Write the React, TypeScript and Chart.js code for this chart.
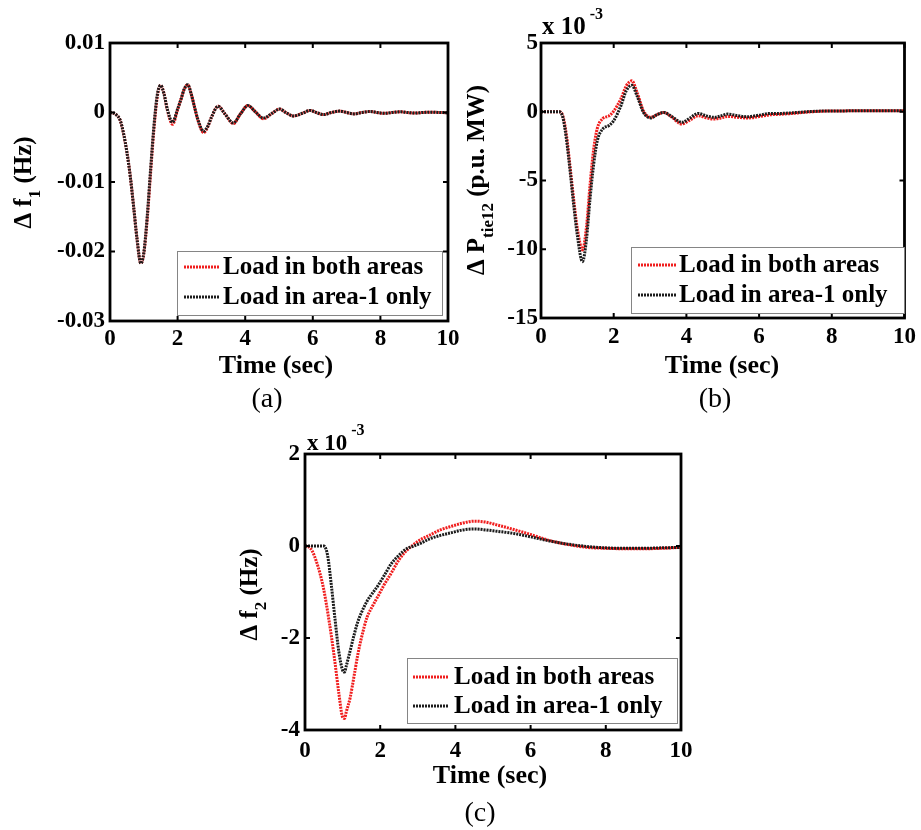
import React, { useEffect, useRef } from 'react';
import { Chart, registerables } from 'chart.js';

Chart.register(...registerables);

const W = 921;
const H = 830;
const FAMILY = '"Liberation Serif", "Times New Roman", Times, serif';
const RED = '#f01e1e';
const BLACK = '#1c1c1c';

const LABEL_BOTH = 'Load in both areas';
const LABEL_AREA1 = 'Load in area-1 only';

// ---------- (a) Δf1 (Hz) ----------
const timeA = [0, 0.1, 0.2, 0.3, 0.4, 0.5, 0.6, 0.7, 0.8, 0.91, 1.0, 1.1, 1.2, 1.3, 1.4, 1.5, 1.6, 1.7, 1.85, 2.0, 2.1, 2.2, 2.3, 2.4, 2.5, 2.6, 2.77, 2.9, 3.0, 3.2, 3.4, 3.65, 3.86, 4.08, 4.3, 4.54, 4.8, 5.02, 5.2, 5.42, 5.7, 5.92, 6.1, 6.32, 6.55, 6.8, 7.0, 7.22, 7.45, 7.7, 7.9, 8.12, 8.35, 8.6, 8.8, 9.02, 9.25, 9.5, 9.75, 10];
const freq1Area1 = [0, -0.0001, -0.0004, -0.0011, -0.003, -0.0057, -0.0092, -0.0136, -0.0182, -0.0217, -0.0202, -0.015, -0.0082, -0.0019, 0.0026, 0.0039, 0.0026, 0.0004, -0.0014, 0.0005, 0.0019, 0.0034, 0.004, 0.0027, 0.0008, -0.001, -0.0027, -0.0019, -0.0007, 0.0009, -0.0002, -0.0015, -0.0002, 0.001, 0.0001, -0.0008, -0.0001, 0.0005, 0, -0.0005, -0.0001, 0.0003, 0, -0.0003, 0, 0.0002, 0, -0.0002, 0, 0.00015, 0, -0.00012, 0, 0.0001, 0, -0.00008, 0, 0.00005, 0, -0.00003];
const freq1Both = [0, -0.0001, -0.0004, -0.0011, -0.003, -0.0057, -0.0092, -0.0136, -0.0182, -0.0217, -0.0203, -0.0154, -0.0088, -0.0024, 0.0023, 0.0039, 0.0027, 0.0003, -0.0017, 0.0004, 0.0019, 0.0034, 0.004, 0.0027, 0.0008, -0.0011, -0.0029, -0.002, -0.0007, 0.0009, -0.0002, -0.0016, -0.0002, 0.001, 0.0001, -0.0009, -0.0001, 0.0005, 0, -0.0005, -0.0001, 0.0003, 0, -0.0003, 0, 0.0002, 0, -0.0002, 0, 0.00015, 0, -0.00012, 0, 0.0001, 0, -0.00008, 0, 0.00005, 0, -0.00003];

// ---------- (b) ΔPtie12 (p.u. MW), x 10^-3 ----------
const timeB = [0, 0.3, 0.5, 0.6, 0.7, 0.8, 0.9, 1.0, 1.14, 1.25, 1.35, 1.45, 1.55, 1.7, 1.87, 2.0, 2.2, 2.35, 2.5, 2.65, 2.82, 3.02, 3.2, 3.38, 3.6, 3.87, 4.1, 4.32, 4.55, 4.77, 4.95, 5.14, 5.4, 5.68, 6.0, 6.31, 6.6, 6.94, 7.3, 7.75, 8.3, 9.0, 9.5, 10];
const tieArea1 = [0, 0, 0, -0.4, -2.0, -4.3, -6.8, -9.0, -10.9, -9.3, -6.3, -3.8, -2.1, -1.25, -1.0, -0.65, 0.45, 1.55, 1.92, 1.1, -0.05, -0.45, -0.2, -0.05, -0.35, -0.77, -0.45, -0.12, -0.3, -0.41, -0.3, -0.17, -0.28, -0.36, -0.25, -0.12, -0.12, -0.07, 0, 0.05, 0.06, 0.08, 0.08, 0.08];
const tieBoth = [0, 0, 0, -0.3, -1.7, -4.0, -6.4, -8.5, -10.05, -8.4, -5.3, -2.7, -1.2, -0.5, -0.3, 0.05, 0.95, 1.9, 2.25, 1.35, 0.05, -0.4, -0.2, -0.05, -0.4, -0.89, -0.6, -0.29, -0.45, -0.53, -0.45, -0.34, -0.4, -0.46, -0.35, -0.22, -0.18, -0.12, -0.03, 0.04, 0.06, 0.08, 0.08, 0.08];

// ---------- (c) Δf2 (Hz), x 10^-3 ----------
const timeC = [0, 0.1, 0.2, 0.3, 0.4, 0.5, 0.6, 0.7, 0.8, 0.9, 1.0, 1.05, 1.1, 1.2, 1.3, 1.4, 1.5, 1.65, 1.8, 1.95, 2.1, 2.3, 2.5, 2.7, 2.9, 3.1, 3.3, 3.6, 3.9, 4.2, 4.5, 4.8, 5.1, 5.5, 6.0, 6.5, 7.0, 7.5, 8.0, 8.5, 9.0, 9.5, 10];
const freq2Both = [0, -0.02, -0.12, -0.33, -0.6, -0.95, -1.42, -1.95, -2.55, -3.2, -3.72, -3.75, -3.6, -3.3, -2.85, -2.38, -2.0, -1.55, -1.3, -1.08, -0.85, -0.58, -0.3, -0.1, 0.04, 0.15, 0.23, 0.35, 0.43, 0.5, 0.54, 0.52, 0.46, 0.37, 0.25, 0.12, 0.03, -0.03, -0.05, -0.06, -0.06, -0.05, -0.03];
const freq2Area1 = [0, 0, 0, 0, 0, 0, -0.2, -0.85, -1.6, -2.3, -2.7, -2.74, -2.6, -2.28, -1.95, -1.66, -1.45, -1.2, -1.02, -0.85, -0.65, -0.38, -0.2, -0.06, 0.0, 0.07, 0.15, 0.23, 0.29, 0.35, 0.37, 0.35, 0.32, 0.28, 0.2, 0.11, 0.04, -0.01, -0.04, -0.05, -0.05, -0.04, -0.03];

// ---------- ticks ----------
const xTicks = [0, 2, 4, 6, 8, 10];
const yTicksA = [-0.03, -0.02, -0.01, 0, 0.01];
const yTicksB = [-15, -10, -5, 0, 5];
const yTicksC = [-4, -2, 0, 2];

type Seg = { text: string; sub?: boolean };

interface PanelSpec {
  area: { l: number; t: number; r: number; b: number };
  yMin: number;
  yMax: number;
  yTicks: number[];
  fmt: (v: number) => string;
  time: number[];
  both: number[];
  area1: number[];
  yTitle: Seg[];
  yTitlePos: [number, number];
  xTitlePos: [number, number];
  caption: string;
  captionPos: [number, number];
  multiplier?: [number, number, number];
  legendBox: [number, number, number, number];
  legendLine: [number, number];
  legendRows: [number, number];
  legendTextX: number;
  xPad: number;
  yPad: number;
}

const fmtDec = (v: number) => {
  const r = Math.round(v * 100) / 100;
  return r === 0 ? '0' : String(r);
};
const fmtInt = (v: number) => {
  const r = Math.round(v);
  return r === 0 ? '0' : String(r);
};

const panels: PanelSpec[] = [
  {
    area: { l: 110, t: 43, r: 448, b: 321 },
    yMin: -0.03, yMax: 0.01, yTicks: yTicksA, fmt: fmtDec,
    time: timeA, both: freq1Both, area1: freq1Area1,
    yTitle: [{ text: 'Δ f' }, { text: '1', sub: true }, { text: ' (Hz)' }],
    yTitlePos: [31, 182.5],
    xTitlePos: [276, 366],
    caption: '(a)', captionPos: [267, 400],
    legendBox: [177, 251, 442, 315], legendLine: [184, 219], legendRows: [267, 297], legendTextX: 223,
    xPad: 4, yPad: 5,
  },
  {
    area: { l: 541, t: 43, r: 910, b: 318 },
    yMin: -15, yMax: 5, yTicks: yTicksB, fmt: fmtInt,
    time: timeB, both: tieBoth, area1: tieArea1,
    yTitle: [{ text: 'Δ P' }, { text: 'tie12', sub: true }, { text: ' (p.u. MW)' }],
    yTitlePos: [484, 180],
    xTitlePos: [722, 366],
    caption: '(b)', captionPos: [715, 400],
    multiplier: [542, 28, 25],
    legendBox: [631, 247, 904, 313], legendLine: [638, 676], legendRows: [265, 295], legendTextX: 679,
    xPad: 5, yPad: 3,
  },
  {
    area: { l: 305, t: 454, r: 681, b: 730 },
    yMin: -4, yMax: 2, yTicks: yTicksC, fmt: fmtInt,
    time: timeC, both: freq2Both, area1: freq2Area1,
    yTitle: [{ text: 'Δ f' }, { text: '2', sub: true }, { text: ' (Hz)' }],
    yTitlePos: [257, 594.5],
    xTitlePos: [490, 776],
    caption: '(c)', captionPos: [480, 814],
    multiplier: [307, 444, 23],
    legendBox: [407, 658, 677, 723], legendLine: [413, 448], legendRows: [677, 706], legendTextX: 454,
    xPad: 7, yPad: 5,
  },
];

const font = (size: number, bold = true) => `${bold ? 'bold ' : ''}${size}px ${FAMILY}`;

function drawDecor(chart: any, p: PanelSpec) {
  const ctx: CanvasRenderingContext2D = chart.ctx;
  const { left: l, top: t, right: r, bottom: b } = chart.chartArea;
  const xs = chart.scales.x;
  const ys = chart.scales.y;
  ctx.save();

  // inner tick marks on all four sides
  ctx.strokeStyle = '#000';
  ctx.lineWidth = 2;
  ctx.beginPath();
  for (const v of xTicks) {
    const px = xs.getPixelForValue(v);
    ctx.moveTo(px, b); ctx.lineTo(px, b - 5);
    ctx.moveTo(px, t); ctx.lineTo(px, t + 5);
  }
  for (const v of p.yTicks) {
    const py = ys.getPixelForValue(v);
    ctx.moveTo(l, py); ctx.lineTo(l + 5, py);
    ctx.moveTo(r, py); ctx.lineTo(r - 5, py);
  }
  ctx.stroke();

  // frame
  ctx.lineWidth = 2.8;
  ctx.strokeRect(l, t, r - l, b - t);

  // legend
  const [bx0, by0, bx1, by1] = p.legendBox;
  ctx.fillStyle = '#fff';
  ctx.fillRect(bx0, by0, bx1 - bx0, by1 - by0);
  ctx.strokeStyle = '#858585';
  ctx.lineWidth = 1;
  ctx.strokeRect(bx0 + 0.5, by0 + 0.5, bx1 - bx0, by1 - by0);
  const entries: [string, string][] = [[LABEL_BOTH, RED], [LABEL_AREA1, BLACK]];
  entries.forEach(([label, color], i) => {
    const y = p.legendRows[i];
    ctx.strokeStyle = color;
    ctx.lineWidth = 3;
    ctx.setLineDash([2, 1]);
    ctx.beginPath();
    ctx.moveTo(p.legendLine[0], y);
    ctx.lineTo(p.legendLine[1], y);
    ctx.stroke();
    ctx.setLineDash([]);
    ctx.fillStyle = '#000';
    ctx.font = font(25);
    ctx.textAlign = 'left';
    ctx.textBaseline = 'middle';
    ctx.fillText(label, p.legendTextX, y + 1);
  });

  // x title
  ctx.fillStyle = '#000';
  ctx.font = font(26);
  ctx.textAlign = 'center';
  ctx.textBaseline = 'middle';
  ctx.fillText('Time (sec)', p.xTitlePos[0], p.xTitlePos[1]);

  // caption
  ctx.font = font(28, false);
  ctx.fillText(p.caption, p.captionPos[0], p.captionPos[1]);

  // y title (rotated, with subscript)
  ctx.save();
  ctx.translate(p.yTitlePos[0], p.yTitlePos[1]);
  ctx.rotate(-Math.PI / 2);
  ctx.textAlign = 'left';
  ctx.textBaseline = 'alphabetic';
  let total = 0;
  for (const s of p.yTitle) {
    ctx.font = font(s.sub ? 17 : 25);
    total += ctx.measureText(s.text).width;
  }
  let x = -total / 2;
  for (const s of p.yTitle) {
    ctx.font = font(s.sub ? 17 : 25);
    ctx.fillText(s.text, x, s.sub ? 9 : 0);
    x += ctx.measureText(s.text).width;
  }
  ctx.restore();

  // exponent multiplier
  if (p.multiplier) {
    const [mx, my, size] = p.multiplier;
    ctx.textAlign = 'left';
    ctx.textBaseline = 'middle';
    ctx.font = font(size);
    ctx.fillText('x 10', mx, my);
    const w = ctx.measureText('x 10').width;
    ctx.font = font(16);
    ctx.fillText('-3', mx + w + 4, my - 13);
  }
  ctx.restore();
}

function makeConfig(p: PanelSpec): any {
  const tickFont = { family: FAMILY, size: 23, weight: 'bold' as const };
  const pts = (vals: number[]) => p.time.map((tv, i) => ({ x: tv, y: vals[i] }));
  return {
    type: 'line',
    data: {
      datasets: [
        {
          label: LABEL_AREA1, data: pts(p.area1), borderColor: BLACK, borderWidth: 3, borderDash: [2, 1],
          pointRadius: 0, cubicInterpolationMode: 'monotone', fill: false,
        },
        {
          label: LABEL_BOTH, data: pts(p.both), borderColor: RED, borderWidth: 3, borderDash: [2, 1],
          pointRadius: 0, cubicInterpolationMode: 'monotone', fill: false,
        },
      ],
    },
    options: {
      responsive: false,
      animation: false,
      events: [],
      layout: {
        padding: { left: p.area.l - 60, top: p.area.t, right: W - p.area.r, bottom: H - p.area.b - 40 },
      },
      plugins: { legend: { display: false }, tooltip: { enabled: false }, title: { display: false } },
      scales: {
        x: {
          type: 'linear', min: 0, max: 10,
          afterBuildTicks: (s: any) => { s.ticks = xTicks.map((v) => ({ value: v })); },
          afterFit: (s: any) => { s.height = 40; },
          ticks: { font: tickFont, color: '#000', padding: p.xPad, maxRotation: 0, autoSkip: false, callback: (v: any) => fmtInt(Number(v)) },
          grid: { display: false, drawTicks: false },
          border: { display: false },
        },
        y: {
          type: 'linear', min: p.yMin, max: p.yMax,
          afterBuildTicks: (s: any) => { s.ticks = p.yTicks.map((v) => ({ value: v })); },
          afterFit: (s: any) => { s.width = 60; },
          ticks: { font: tickFont, color: '#000', padding: p.yPad, autoSkip: false, callback: (v: any) => p.fmt(Number(v)) },
          grid: { display: false, drawTicks: false },
          border: { display: false },
        },
      },
    },
    plugins: [{ id: 'decor', afterDraw: (chart: any) => drawDecor(chart, p) }],
  };
}

function Panel({ spec }: { spec: PanelSpec }) {
  const ref = useRef<HTMLCanvasElement>(null);
  useEffect(() => {
    const chart = new Chart(ref.current as HTMLCanvasElement, makeConfig(spec));
    return () => chart.destroy();
  }, [spec]);
  return (
    <canvas
      ref={ref}
      width={W}
      height={H}
      style={{ position: 'absolute', left: 0, top: 0, width: W, height: H }}
    />
  );
}

export default function App() {
  return (
    <div style={{ position: 'absolute', left: 0, top: 0, width: W, height: H, background: '#fff', overflow: 'hidden' }}>
      {panels.map((p, i) => (
        <Panel key={i} spec={p} />
      ))}
    </div>
  );
}
